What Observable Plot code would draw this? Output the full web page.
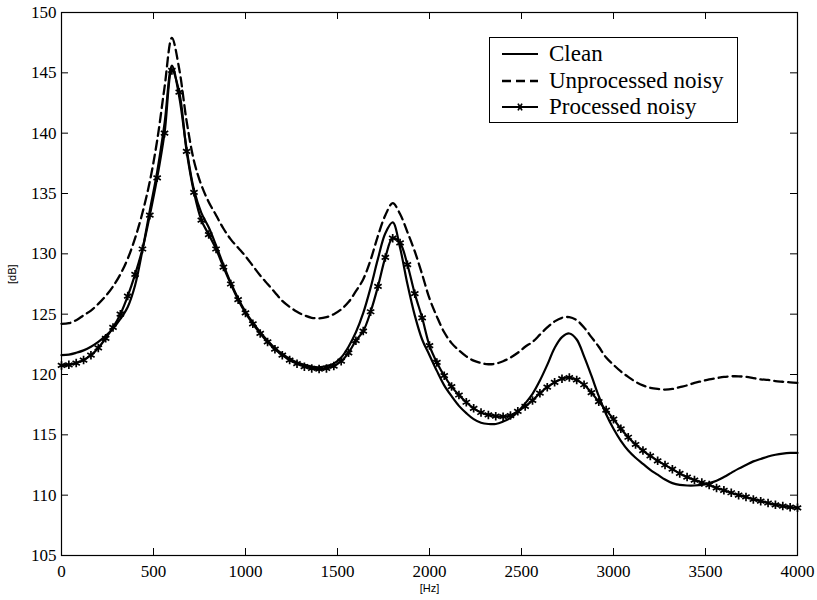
<!DOCTYPE html>
<html><head><meta charset="utf-8">
<script src="https://cdn.jsdelivr.net/npm/d3@7"></script>
<script src="https://cdn.jsdelivr.net/npm/@observablehq/plot@0.6"></script>
<style>
body{margin:0;background:#fff}
#wrap{position:relative;width:817px;height:600px}
#legend{position:absolute;left:489px;top:37px;width:247px;height:81px;border:1px solid #000;background:#fff;
  font-family:'Liberation Serif','Times New Roman',Times,'DejaVu Serif',serif;font-size:23px;color:#000;box-sizing:content-box;padding-top:3px}
.row{position:relative;height:26.5px}
.row svg{position:absolute;left:12px;top:8px}
.row span{position:absolute;left:59px;top:0;line-height:26.5px;white-space:nowrap}
</style></head>
<body><div id="wrap"></div>
<script>
// sampling grid (Hz)
const freqs = d3.range(0, 4001, 40);
const cleanDb = [
  121.6,121.65,121.8,122.0,122.3,122.7,123.2,123.8,124.6,125.6,
  127.4,130.3,133.6,136.8,140.8,145.6,143.0,138.7,135.3,133.4,
  132.2,130.7,129.1,127.6,126.3,125.2,124.3,123.5,122.8,122.2,
  121.7,121.3,121.0,120.8,120.65,120.6,120.7,120.9,121.4,122.3,
  123.5,125.1,127.2,129.6,131.7,132.6,130.5,127.5,124.9,122.9,
  121.6,120.3,119.1,118.2,117.4,116.8,116.3,116.0,115.9,115.9,
  116.1,116.4,116.9,117.6,118.4,119.5,120.8,122.2,123.1,123.4,
  122.9,121.5,119.9,118.2,116.7,115.5,114.5,113.7,113.1,112.6,
  112.1,111.7,111.3,111.0,110.85,110.8,110.8,110.85,111.0,111.2,
  111.5,111.85,112.2,112.5,112.8,113.0,113.2,113.35,113.45,113.5,
  113.5
];
const unprocessedDb = [
  124.2,124.25,124.5,124.9,125.3,125.85,126.5,127.3,128.3,129.6,
  131.3,133.4,136.0,139.4,143.8,147.9,145.3,141.0,137.7,135.7,
  134.3,133.2,132.1,131.2,130.5,129.8,129.0,128.2,127.5,126.8,
  126.1,125.6,125.2,124.9,124.7,124.65,124.75,125.0,125.4,126.0,
  126.9,127.9,129.5,131.5,133.2,134.2,133.3,131.8,130.2,128.3,
  126.3,124.8,123.5,122.6,122.0,121.5,121.15,120.95,120.85,120.9,
  121.1,121.4,121.8,122.3,122.7,123.3,123.9,124.4,124.7,124.75,
  124.5,123.9,123.1,122.3,121.4,120.8,120.25,119.8,119.4,119.1,
  118.9,118.8,118.75,118.8,118.95,119.1,119.3,119.45,119.6,119.7,
  119.8,119.85,119.85,119.8,119.7,119.6,119.55,119.45,119.4,119.35,
  119.3
];
const processedDb = [
  120.75,120.8,120.95,121.2,121.6,122.2,123.0,123.9,125.0,126.5,
  128.3,130.4,133.2,136.3,140.0,145.2,143.4,138.5,135.1,132.8,
  131.6,130.4,128.9,127.5,126.2,125.1,124.2,123.4,122.7,122.1,
  121.6,121.2,120.9,120.65,120.5,120.45,120.5,120.7,121.1,121.8,
  122.8,123.6,125.2,127.3,129.7,131.3,130.9,129.1,126.7,124.7,
  122.4,121.0,119.9,119.0,118.3,117.7,117.2,116.85,116.65,116.55,
  116.5,116.6,116.95,117.35,117.85,118.45,118.95,119.35,119.65,119.75,
  119.55,119.15,118.5,117.75,117.05,116.3,115.5,114.8,114.2,113.7,
  113.25,112.85,112.5,112.15,111.8,111.5,111.25,111.05,110.85,110.6,
  110.4,110.2,110.0,109.85,109.65,109.5,109.35,109.2,109.1,109.0,
  108.95
];
const xTicks = [0,500,1000,1500,2000,2500,3000,3500,4000];
const yTicks = [105,110,115,120,125,130,135,140,145,150];
const xLabel = ["[Hz]"];
const yLabel = ["[dB]"];
const seriesNames = ["Clean","Unprocessed noisy","Processed noisy"];

const rows = freqs.map((f,i)=>({f, clean: cleanDb[i], unproc: unprocessedDb[i], proc: processedDb[i]}));

const W = 817, H = 600, mL = 61, mR = 20, mT = 12, mB = 45, tick = 7;
const innerW = W - mL - mR, innerH = H - mT - mB;
const serif = "'Liberation Serif','Times New Roman',Times,'DejaVu Serif',serif";
const sans = "'Liberation Sans',Arial,'DejaVu Sans',sans-serif";

const chart = Plot.plot({
  width: W, height: H,
  marginLeft: mL, marginRight: mR, marginTop: mT, marginBottom: mB,
  style: {fontFamily: serif, fontSize: "17px", color: "#000", background: "#fff"},
  x: {domain: [0,4000], ticks: xTicks, tickSize: 0, tickPadding: 9, label: null, tickFormat: d3.format("d")},
  y: {domain: [105,150], ticks: yTicks, tickSize: 0, tickPadding: 5, label: null, tickFormat: d3.format("d")},
  marks: [
    Plot.line(rows, {x: "f", y: "unproc", stroke: "#000", strokeWidth: 2.3, strokeDasharray: "9,5", curve: "catmull-rom"}),
    Plot.line(rows, {x: "f", y: "clean", stroke: "#000", strokeWidth: 2.2, curve: "catmull-rom"}),
    Plot.line(rows, {x: "f", y: "proc", stroke: "#000", strokeWidth: 2.2, curve: "catmull-rom"}),
    Plot.dot(rows, {x: "f", y: "proc", symbol: "asterisk", r: 4, stroke: "#000", strokeWidth: 1.7}),
    Plot.ruleX(xTicks, {x: d => d, insetTop: innerH - tick, stroke: "#000"}),
    Plot.ruleX(xTicks, {x: d => d, insetBottom: innerH - tick, stroke: "#000"}),
    Plot.ruleY(yTicks, {y: d => d, insetRight: innerW - tick, stroke: "#000"}),
    Plot.ruleY(yTicks, {y: d => d, insetLeft: innerW - tick, stroke: "#000"}),
    Plot.frame({stroke: "#000", strokeWidth: 1.2}),
    Plot.text(xLabel, {text: d => d, frameAnchor: "bottom", dy: 36, fontFamily: sans, fontSize: 11}),
    Plot.text(yLabel, {text: d => d, frameAnchor: "left", dx: -49, rotate: -90, fontFamily: sans, fontSize: 11})
  ]
});
const wrap = document.getElementById("wrap");
wrap.appendChild(chart);

// legend
const legend = document.createElement("div");
legend.id = "legend";
const samples = [
  `<line x1="0" y1="5" x2="36" y2="5" stroke="#000" stroke-width="2.2"/>`,
  `<line x1="0" y1="5" x2="36" y2="5" stroke="#000" stroke-width="2.3" stroke-dasharray="9,5"/>`,
  `<line x1="0" y1="5" x2="36" y2="5" stroke="#000" stroke-width="2.2"/>` +
  `<g transform="translate(18,5)" stroke="#000" stroke-width="1.7"><line x1="-4" y1="0" x2="4" y2="0"/><line x1="-2" y1="-3.4" x2="2" y2="3.4"/><line x1="-2" y1="3.4" x2="2" y2="-3.4"/></g>`
];
seriesNames.forEach((name, i) => {
  const r = document.createElement("div");
  r.className = "row";
  r.innerHTML = `<svg width="36" height="10">${samples[i]}</svg><span>${name}</span>`;
  legend.appendChild(r);
});
wrap.appendChild(legend);
</script>
</body></html>
